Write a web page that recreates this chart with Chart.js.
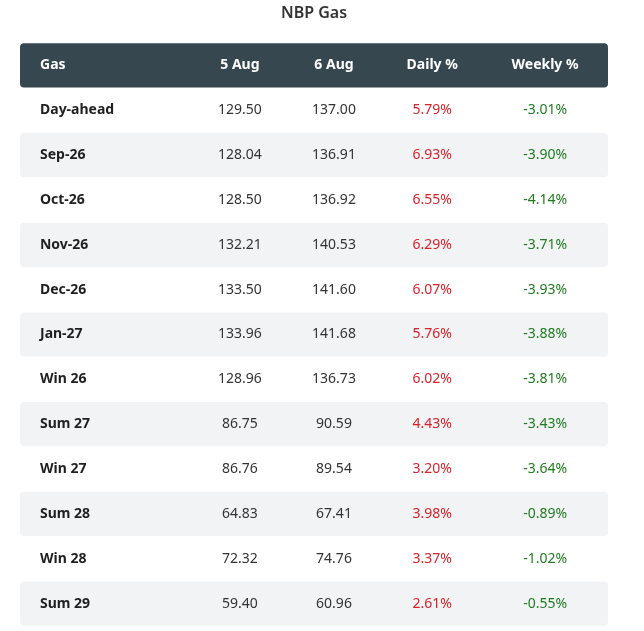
<!DOCTYPE html>
<html>
<head>
<meta charset="utf-8">
<title>NBP Gas</title>
<script src="https://cdn.jsdelivr.net/npm/chart.js@4.4.1/dist/chart.umd.min.js"></script>
<style>
    html, body { margin: 0; padding: 0; background: #ffffff; }
    #wrap { width: 644px; height: 631px; }
</style>
</head>
<body>
<div id="wrap"><canvas id="chart-nbp"></canvas></div>
<script>
// table contents
const headers = ["Gas", "5 Aug", "6 Aug", "Daily %", "Weekly %"];
const products = ["Day-ahead", "Sep-26", "Oct-26", "Nov-26", "Dec-26", "Jan-27",
    "Win 26", "Sum 27", "Win 27", "Sum 28", "Win 28", "Sum 29"];
const aug5 = [129.50, 128.04, 128.50, 132.21, 133.50, 133.96, 128.96, 86.75, 86.76, 64.83, 72.32, 59.40];
const aug6 = [137.00, 136.91, 136.92, 140.53, 141.60, 141.68, 136.73, 90.59, 89.54, 67.41, 74.76, 60.96];
const daily = [5.79, 6.93, 6.55, 6.29, 6.07, 5.76, 6.02, 4.43, 3.20, 3.98, 3.37, 2.61];
const weekly = [-3.01, -3.90, -4.14, -3.71, -3.93, -3.88, -3.81, -3.43, -3.64, -0.89, -1.02, -0.55];

let nbpTable = {
    /**
     * where each column sits on the 0..1 x scale (first one is left aligned)
     * @type {number[]}
     */
    COLUMN_ANCHORS: [0.034, 0.374, 0.534, 0.701, 0.893],

    FONT: "'Noto Sans', 'DejaVu Sans', sans-serif",
    HEADER_BG: '#37474f',
    STRIPE_BG: '#f2f3f5',
    UP_COLOR: '#d9222a',
    DOWN_COLOR: '#217a21',
    chart: null
}

/**
 * one line of cell strings per row, header first
 */
nbpTable.rowTexts = function () {
    let rows = [headers];
    for (let i = 0; i < products.length; i++) {
        rows.push([
            products[i],
            aug5[i].toFixed(2),
            aug6[i].toFixed(2),
            daily[i].toFixed(2) + "%",
            weekly[i].toFixed(2) + "%"
        ]);
    }
    return rows;
}

/**
 * draws the cell texts on top of the row bars
 */
nbpTable.textPlugin = {
    id: 'tableText',
    afterDatasetsDraw: function (chart) {
        let ctx = chart.ctx;
        let x = chart.scales.x;
        let y = chart.scales.y;
        let rows = nbpTable.rowTexts();
        ctx.save();
        ctx.textBaseline = 'middle';
        rows.forEach(function (cells, r) {
            let cy = y.getPixelForValue(r);
            cells.forEach(function (text, c) {
                let cx = x.getPixelForValue(nbpTable.COLUMN_ANCHORS[c]);
                ctx.textAlign = c === 0 ? 'left' : 'center';
                if (r === 0) {
                    ctx.font = "bold 14px " + nbpTable.FONT;
                    ctx.fillStyle = '#ffffff';
                } else if (c === 0) {
                    ctx.font = "bold 14px " + nbpTable.FONT;
                    ctx.fillStyle = '#1f1f1f';
                } else if (c >= 3) {
                    let v = c === 3 ? daily[r - 1] : weekly[r - 1];
                    ctx.font = "14px " + nbpTable.FONT;
                    ctx.fillStyle = v >= 0 ? nbpTable.UP_COLOR : nbpTable.DOWN_COLOR;
                } else {
                    ctx.font = "14px " + nbpTable.FONT;
                    ctx.fillStyle = '#333333';
                }
                ctx.fillText(text, cx, cy);
            });
        });
        ctx.restore();
    }
}

nbpTable.init = function () {
    let labels = [headers[0]].concat(products);
    // every row is a full-width bar, only header and stripes get a colour
    let rowColors = labels.map(function (l, i) {
        if (i === 0) return nbpTable.HEADER_BG;
        return i % 2 === 0 ? nbpTable.STRIPE_BG : 'rgba(255,255,255,0)';
    });

    nbpTable.chart = new Chart(document.getElementById('chart-nbp'), {
        type: 'bar',
        data: {
            labels: labels,
            datasets: [{
                data: labels.map(function () { return 1; }),
                backgroundColor: rowColors,
                borderRadius: 4,
                borderSkipped: false,
                categoryPercentage: 1,
                barPercentage: 0.985
            }]
        },
        options: {
            indexAxis: 'y',
            responsive: true,
            maintainAspectRatio: false,
            animation: false,
            layout: {
                padding: {left: 20, right: 36, top: 0, bottom: 5}
            },
            scales: {
                x: {display: false, min: 0, max: 1},
                y: {display: false}
            },
            plugins: {
                legend: {display: false},
                tooltip: {enabled: false},
                title: {
                    display: true,
                    text: 'NBP Gas',
                    color: '#333333',
                    font: {family: nbpTable.FONT, size: 16, weight: '600', lineHeight: 1.2},
                    padding: {top: 4, bottom: 19.8}
                }
            }
        },
        plugins: [nbpTable.textPlugin]
    });
}

nbpTable.init();
</script>
</body>
</html>
